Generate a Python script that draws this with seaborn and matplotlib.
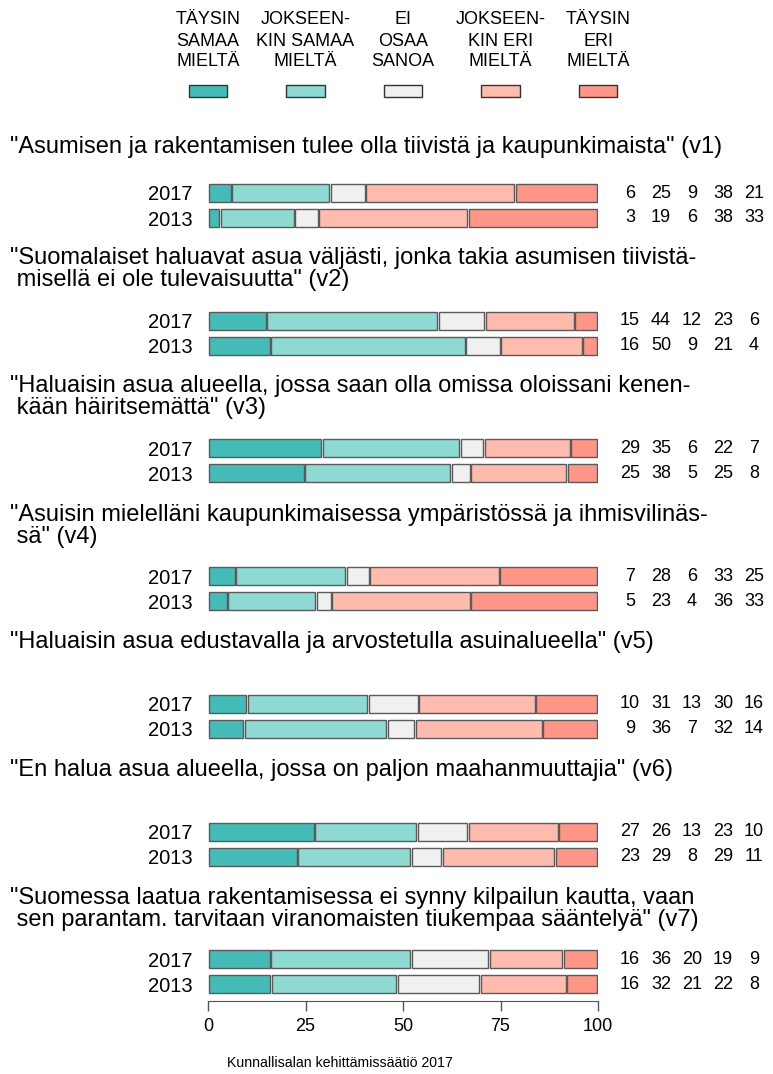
import numpy as np
import pandas as pd
import seaborn as sns
import matplotlib.pyplot as plt
from matplotlib.patches import Rectangle

sns.set_style("white")
plt.rcParams['font.family'] = ['Liberation Sans', 'DejaVu Sans']
plt.rcParams['text.color'] = 'black'
plt.rcParams['xtick.color'] = 'black'
plt.rcParams['ytick.color'] = 'black'

# Data
categories = ["TÄYSIN\nSAMAA\nMIELTÄ", "JOKSEEN-\nKIN SAMAA\nMIELTÄ", "EI\nOSAA\nSANOA",
              "JOKSEEN-\nKIN ERI\nMIELTÄ", "TÄYSIN\nERI\nMIELTÄ"]
colors = ["#45bbb7", "#8fd9d3", "#f0f0f0", "#ffbbae", "#ff9688"]
years = ["2017", "2013"]
statements = [
    '"Asumisen ja rakentamisen tulee olla tiivistä ja kaupunkimaista" (v1)',
    '"Suomalaiset haluavat asua väljästi, jonka takia asumisen tiivistä-\n misellä ei ole tulevaisuutta" (v2)',
    '"Haluaisin asua alueella, jossa saan olla omissa oloissani kenen-\n kään häiritsemättä" (v3)',
    '"Asuisin mielelläni kaupunkimaisessa ympäristössä ja ihmisvilinäs-\n sä" (v4)',
    '"Haluaisin asua edustavalla ja arvostetulla asuinalueella" (v5)',
    '"En halua asua alueella, jossa on paljon maahanmuuttajia" (v6)',
    '"Suomessa laatua rakentamisessa ei synny kilpailun kautta, vaan\n sen parantam. tarvitaan viranomaisten tiukempaa sääntelyä" (v7)',
]
v2017 = [[6, 25, 9, 38, 21],
         [15, 44, 12, 23, 6],
         [29, 35, 6, 22, 7],
         [7, 28, 6, 33, 25],
         [10, 31, 13, 30, 16],
         [27, 26, 13, 23, 10],
         [16, 36, 20, 19, 9]]
v2013 = [[3, 19, 6, 38, 33],
         [16, 50, 9, 21, 4],
         [25, 38, 5, 25, 8],
         [5, 23, 4, 36, 33],
         [9, 36, 7, 32, 14],
         [23, 29, 8, 29, 11],
         [16, 32, 21, 22, 8]]
x_ticks = [0, 25, 50, 75, 100]
footer = "Kunnallisalan kehittämissäätiö 2017"

# Layout (pixels)
W, H = 773, 1074
fig = plt.figure(figsize=(W / 100, H / 100), dpi=100)


def fx(x):
    return x / W


def fy(y):
    return 1 - y / H


x0, x1 = 208, 598
row_top = 193
group_step = 127.7
row_step = 25
title_y = [147, 258, 386, 515, 642, 770, 898]
col_x = [630, 661, 692, 723, 754]
gap = 0.4
edge = "#5a5a5a"

# Legend
lax = fig.add_axes([fx(x0), fy(100), fx(x1) - fx(x0), 100 / H])
lax.set_xlim(0, 100)
lax.set_ylim(100, 0)
lax.axis("off")
for k, cat in enumerate(categories):
    cx = k * 25
    lax.add_patch(Rectangle((cx - 4.9, 85), 9.8, 12, facecolor=colors[k],
                            edgecolor="#333333", lw=1, clip_on=False))
    for i, line in enumerate(cat.split("\n")):
        lax.text(cx, 20 + 21 * i, line, ha="center", va="center", fontsize=13)

# Groups
n = len(statements)
for g in range(n):
    c17 = row_top + g * group_step
    top = c17 - row_step / 2
    ax = fig.add_axes([fx(x0), fy(top + 2 * row_step), fx(x1) - fx(x0), 2 * row_step / H])
    vals = np.array([v2017[g], v2013[g]], dtype=float)
    shares = vals / vals.sum(axis=1, keepdims=True) * 100
    lefts = np.cumsum(shares, axis=1) - shares
    for k in range(len(categories)):
        df = pd.DataFrame({"year": years, "share": shares[:, k] - gap})
        sns.barplot(data=df, x="share", y="year", order=years, left=lefts[:, k] + gap / 2,
                    color=colors[k], saturation=1, edgecolor=edge, linewidth=1,
                    width=0.72, errorbar=None, ax=ax)
    ax.set_xlim(0, 100)
    ax.set_ylim(1.5, -0.5)
    ax.set_xlabel("")
    ax.set_ylabel("")
    for s in ax.spines.values():
        s.set_visible(False)
    ax.tick_params(axis="y", left=False, length=0, pad=11, labelsize=14.5)
    if g == n - 1:
        ax.spines["bottom"].set_visible(True)
        ax.spines["bottom"].set_color("#555555")
        ax.spines["bottom"].set_bounds(0, 100)
        ax.spines["bottom"].set_position(("outward", 3))
        ax.set_xticks(x_ticks)
        ax.tick_params(axis="x", bottom=True, length=7, width=1, color="#555555",
                       labelsize=13, pad=5)
    else:
        ax.set_xticks([])

    # numbers on the right
    for r, row in enumerate([v2017[g], v2013[g]]):
        for k, v in enumerate(row):
            fig.text(fx(col_x[k]), fy(c17 + r * row_step), str(v), ha="center",
                     va="center", fontsize=13)

    # statement title
    for i, line in enumerate(statements[g].split("\n")):
        fig.text(fx(10), fy(title_y[g] + 22 * i), line, ha="left", va="center",
                 fontsize=17)

fig.text(fx(340), fy(1063), footer, ha="center", va="center", fontsize=10.2)

fig.savefig("out.png", dpi=100)
